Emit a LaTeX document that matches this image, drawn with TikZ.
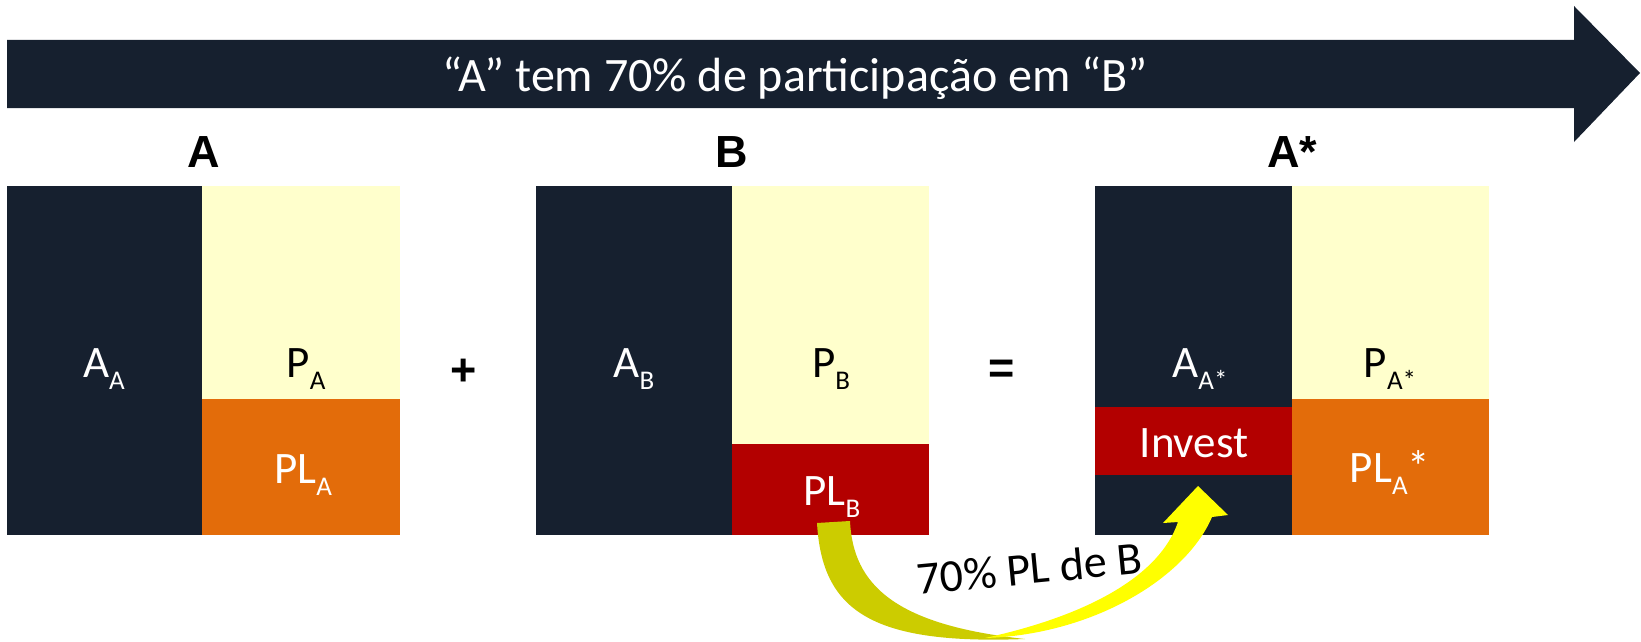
\documentclass[tikz,border=0pt]{standalone}
\usepackage{fontspec}
\setmainfont{Carlito}
\newfontfamily\headfont{Liberation Sans}
\definecolor{navyA}{HTML}{16202F}
\definecolor{paleY}{HTML}{FFFFCC}
\definecolor{orngA}{HTML}{E36C0A}
\definecolor{redB}{HTML}{B30000}
\definecolor{oliveY}{HTML}{CCCC00}
\definecolor{brightY}{HTML}{FFFF00}
\newcommand\lo[1]{\raisebox{-0.27em}{\fontsize{27}{27}\selectfont #1}}
\tikzset{
  blk/.style={inner sep=0pt, outer sep=0pt, anchor=north west},
  lbl/.style={font=\fontsize{45}{45}\selectfont, anchor=base, inner sep=0pt},
  head/.style={font=\headfont\bfseries\fontsize{45}{45}\selectfont, anchor=base, inner sep=0pt},
}
\begin{document}
\begin{tikzpicture}[x=1pt,y=-1pt]
  \useasboundingbox (0,0) rectangle (1641,642);
  % banner
  \fill[navyA] (7,40) -- (1574,40) -- (1574,6) -- (1640,73) -- (1574,142)
    -- (1574,108) -- (7,108) -- cycle;
  \node[lbl, white, font=\fontsize{48}{48}\selectfont] (title) at (795,92)
    {“A” tem 70\% de participação em “B”};
  % A
  \node[head] (hA) at (204,167) {A};
  \node[blk, fill=navyA, minimum width=195pt, minimum height=349pt] (actA) at (7,186) {};
  \node[blk, fill=paleY, minimum width=198pt, minimum height=213pt] (pasA) at (202,186) {};
  \node[blk, fill=orngA, minimum width=198pt, minimum height=136pt] (plA) at (202,399) {};
  \node[lbl, white] (lActA) at (104,377) {A\lo{A}};
  \node[lbl] (lPasA) at (306,377) {P\lo{A}};
  \node[lbl, white] (lPlA) at (303,483) {PL\lo{A}};
  \node[head] (plus) at (464,385) {+};
  % B
  \node[head] (hB) at (732,167) {B};
  \node[blk, fill=navyA, minimum width=196pt, minimum height=349pt] (actB) at (536,186) {};
  \node[blk, fill=paleY, minimum width=197pt, minimum height=258pt] (pasB) at (732,186) {};
  \node[blk, fill=redB, minimum width=197pt, minimum height=91pt] (plB) at (732,444) {};
  \node[lbl, white] (lActB) at (634,377) {A\lo{B}};
  \node[lbl] (lPasB) at (831,377) {P\lo{B}};
  \node[lbl, white] (lPlB) at (832,505) {PL\lo{B}};
  \node[head] (equal) at (1002,383) {=};
  % A*
  \node[head] (hS) at (1292,167) {A*};
  \node[blk, fill=navyA, minimum width=197pt, minimum height=349pt] (actS) at (1095,186) {};
  \node[blk, fill=redB, minimum width=197pt, minimum height=68pt] (invS) at (1095,407) {};
  \node[blk, fill=paleY, minimum width=197pt, minimum height=213pt] (pasS) at (1292,186) {};
  \node[blk, fill=orngA, minimum width=197pt, minimum height=136pt] (plS) at (1292,399) {};
  \node[lbl, white] (lActS) at (1200,377) {A\lo{A*}};
  \node[lbl, white] (lInvS) at (1194,457) {Invest};
  \node[lbl] (lPasS) at (1390,377) {P\lo{A*}};
  \node[lbl, white] (lPlS) at (1390,482) {PL\lo{A}*};
  % curved arrow
  \fill[oliveY] (817,523) .. controls (822,610) and (870,645) .. (1025,639)
    .. controls (895,625) and (853,585) .. (850,521) -- cycle;
  \fill[brightY] (985,638) .. controls (1090,635) and (1185,580) .. (1212,517)
    -- (1228,515) -- (1198,486) -- (1163,523) -- (1178,522)
    .. controls (1160,575) and (1090,615) .. (985,638) -- cycle;
  \node[lbl, rotate=5.5, font=\fontsize{46}{46}\selectfont] (pct) at (1031,584) {70\% PL de B};
\end{tikzpicture}
\end{document}
